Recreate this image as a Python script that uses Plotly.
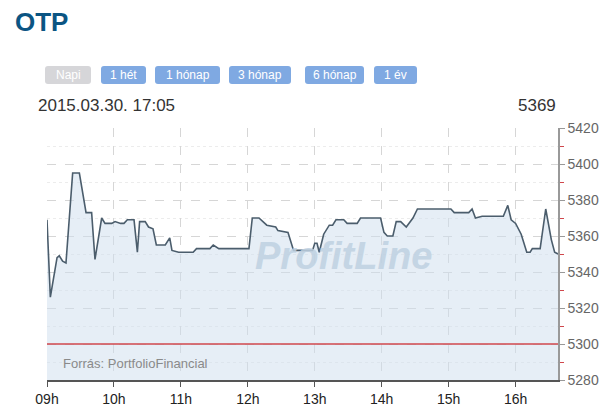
import plotly.graph_objects as go

# intraday OTP prices, 2015.03.30
times = ["09:00", "09:03", "09:09", "09:11", "09:14", "09:17", "09:23", "09:29", "09:35", "09:40",
         "09:43", "09:49", "09:52", "09:58", "10:01", "10:06", "10:09", "10:12", "10:18", "10:21",
         "10:23", "10:28", "10:31", "10:35", "10:38", "10:46", "10:50", "10:52", "10:58", "11:11",
         "11:14", "11:26", "11:29", "11:34", "12:01", "12:04", "12:10", "12:17", "12:25", "12:27",
         "12:36", "12:41", "12:58", "13:00", "13:02", "13:04", "13:08", "13:13", "13:16", "13:19",
         "13:26", "13:29", "13:38", "13:41", "13:59", "14:02", "14:05", "14:10", "14:13", "14:17",
         "14:22", "14:28", "14:32", "15:02", "15:05", "15:18", "15:21", "15:24", "15:30", "15:49",
         "15:53", "15:56", "16:00", "16:05", "16:10", "16:13", "16:15", "16:22", "16:27", "16:32",
         "16:35", "16:38"]
prices = [5369, 5326, 5348, 5349, 5346, 5345, 5395, 5395, 5373, 5373,
          5347, 5370, 5367, 5367, 5368, 5367, 5367, 5369, 5369, 5351,
          5368, 5368, 5365, 5364, 5355, 5355, 5359, 5352, 5351, 5351,
          5353, 5353, 5355, 5353, 5353, 5370, 5370, 5366, 5365, 5363,
          5362, 5352, 5352, 5356, 5356, 5351, 5361, 5366, 5366, 5369,
          5369, 5367, 5367, 5370, 5370, 5362, 5360, 5360, 5368, 5368,
          5365, 5370, 5375, 5375, 5373, 5373, 5375, 5370, 5371, 5371,
          5377, 5369, 5367, 5361, 5351, 5351, 5353, 5353, 5375, 5358,
          5351, 5350]
day = "2015-03-30"
ref_level = 5300
y_range = [5280, 5420]
last_update = "2015.03.30. 17:05"
last_price = "5369"
buttons = ["Napi", "1 hét", "1 hónap", "3 hónap", "6 hónap", "1 év"]
btn_left = [45, 101, 155, 229, 305, 374]
btn_right = [91, 146, 220, 291, 364, 417]

x = [day + " " + t for t in times]

# the page body adds 8px, so the figure is 8px smaller and the margins shifted
OFF = 8
W, H = 615 - OFF, 420 - OFF
X0, X1, Y0, Y1 = 47, 558, 128, 380   # plot area on screen
L, R, T, B = X0 - OFF, 615 - X1, Y0 - OFF, 420 - Y1
pw, ph = X1 - X0, Y1 - Y0


def px(v):
    return (v - X0) / pw


def py(v):
    return (Y1 - v) / ph


def rounded(x0, y0, x1, y1, r=3):
    rx, ry = r / pw, r / ph
    a, b, c, d = px(x0), py(y1), px(x1), py(y0)
    return (f"M{a+rx},{b} L{c-rx},{b} Q{c},{b} {c},{b+ry} L{c},{d-ry} Q{c},{d} {c-rx},{d} "
            f"L{a+rx},{d} Q{a},{d} {a},{d-ry} L{a},{b+ry} Q{a},{b} {a+rx},{b} Z")


def label(xp, yp, text, size, color, xanchor="left", **kw):
    fig.add_annotation(x=px(xp), y=py(yp), xref="paper", yref="paper", text=text,
                       showarrow=False, xanchor=xanchor, yanchor="middle",
                       font=dict(family="Liberation Sans", size=size, color=color), **kw)


fig = go.Figure()
# half transparent fill so the dashed grid still shows below the line
fig.add_trace(go.Scatter(x=x, y=prices, mode="lines", fill="tozeroy",
                         fillcolor="rgba(206,221,237,0.5)", line=dict(color="#4b5d6c", width=1.6),
                         hoverinfo="x+y", showlegend=False))
fig.add_hline(y=ref_level, line=dict(color="#d0474c", width=1.6))

fig.update_xaxes(type="date", range=[day + " 09:00", day + " 16:38"],
                 tick0=day + " 09:00", dtick=3600000, tickformat="%Hh",
                 ticks="outside", ticklen=5, tickcolor="#555",
                 showline=True, linecolor="#555", linewidth=1.5,
                 showgrid=True, gridcolor="#d6d6d6", griddash="dash", gridwidth=1,
                 tickfont=dict(family="Liberation Sans", size=14, color="#222"),
                 zeroline=False)
fig.update_yaxes(range=y_range, side="right", dtick=20,
                 ticks="outside", ticklen=5, tickcolor="#999",
                 showline=True, linecolor="#999", linewidth=1.5,
                 showgrid=True, gridcolor="#d6d6d6", griddash="dash", gridwidth=1,
                 minor=dict(dtick=10, ticks="outside", ticklen=4, tickcolor="#d0474c",
                            showgrid=True, gridcolor="#ececec", griddash="dot"),
                 tickfont=dict(family="Liberation Sans", size=14, color="#666"),
                 zeroline=False)

# header
label(13, 22, "<b>OTP</b>", 26, "#0b5583")
for name, a, b in zip(buttons, btn_left, btn_right):
    col = "#d6d6d9" if name == "Napi" else "#7fa9e2"
    fig.add_shape(type="path", path=rounded(a, 66, b, 84), xref="paper", yref="paper",
                  fillcolor=col, line=dict(width=0))
    label((a + b) / 2, 75, name, 12, "white", xanchor="center")
label(36, 105, last_update, 17, "#333")
label(558, 105, last_price, 17, "#333", xanchor="right")

# watermark and source
label(343, 256, "<b><i>ProfitLine</i></b>", 38, "#bfd1e1", xanchor="center", opacity=0.85)
label(61, 363, "Forrás: PortfolioFinancial", 13, "#8a8a8a")

fig.update_layout(width=W, height=H, margin=dict(l=L, r=R, t=T, b=B),
                  plot_bgcolor="white", paper_bgcolor="white", showlegend=False)

fig.write_html("out.html")
